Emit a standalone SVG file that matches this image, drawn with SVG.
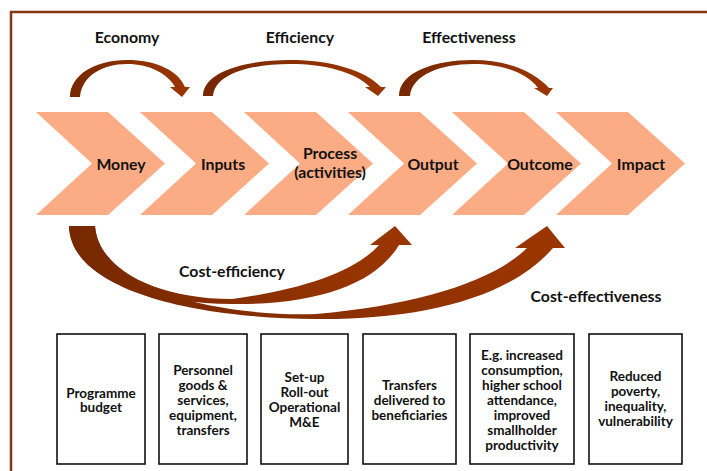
<svg xmlns="http://www.w3.org/2000/svg" width="707" height="471" viewBox="0 0 707 471">
<style>
.chev{fill:#FCAC85}
.t{font-family:Lato,"Liberation Sans",sans-serif;font-weight:bold;fill:#111;text-anchor:middle}
.big{font-size:15.8px}
.sm{font-size:13.5px}
.box{fill:#fff;stroke:#111;stroke-width:1.6}
.arc{fill:url(#g)}
</style>
<defs>
<linearGradient id="g" x1="0" y1="0" x2="1" y2="0">
<stop offset="0" stop-color="#762800"/>
<stop offset="1" stop-color="#9C3600"/>
</linearGradient>
</defs>
<rect x="11" y="12" width="710" height="480" fill="#fff" stroke="#853514" stroke-width="2.5"/>

<g id="labels-top">
<text class="t big" x="127" y="43">Economy</text>
<text class="t big" x="300" y="43">Efficiency</text>
<text class="t big" x="469" y="43">Effectiveness</text>
</g>

<g id="n-money"><polygon class="chev" points="36,112 108,112 165,163.5 108,215 36,215 92,163.5"/><text class="t big" x="121" y="170">Money</text></g>
<g id="n-inputs"><polygon class="chev" points="140,112 212,112 269,163.5 212,215 140,215 196,163.5"/><text class="t big" x="223" y="170">Inputs</text></g>
<g id="n-process"><polygon class="chev" points="244,112 316,112 373,163.5 316,215 244,215 300,163.5"/><text class="t big" x="330" y="158.5">Process</text><text class="t big" x="330" y="177.5">(activities)</text></g>
<g id="n-output"><polygon class="chev" points="348,112 420,112 477,163.5 420,215 348,215 404,163.5"/><text class="t big" x="433" y="170">Output</text></g>
<g id="n-outcome"><polygon class="chev" points="452,112 524,112 581,163.5 524,215 452,215 508,163.5"/><text class="t big" x="540" y="170">Outcome</text></g>
<g id="n-impact"><polygon class="chev" points="556,112 628,112 685,163.5 628,215 556,215 612,163.5"/><text class="t big" x="641" y="170">Impact</text></g>

<g id="connectors">
<path class="arc" d="M70,97 C70,75 95,60 127,60 C155,60 178,70 185,87 L190,87 L182,97 L170,87 L175,87 C168,74 150,64 127,64 C102,64 82,76 80,97 Z"/>
<path class="arc" d="M203,96 C203,72 245,60 290,60 C330,60 365,70 381,87 L386,87 L378,96 L365,87 L370,87 C355,72 325,64 290,64 C250,64 215,74 213,96 Z"/>
<path class="arc" d="M399,96 C399,72 435,60 473,60 C505,60 533,70 549,88 L553,88 L547,96 L534,88 L538,88 C527,73 503,64 473,64 C440,64 412,75 410,96 Z"/>
<path class="arc" d="M69,226 C72,290 190,318 316,319 C420,320 510,298 553,248 L565,248 L547,226 L515,248 L527,248 C495,280 420,305 316,314 C220,317 100,290 95,226 Z"/>
<path class="arc" d="M69,226 C70,275 140,303 232,304 C315,305 375,285 399,245 L412,245 L395,226 L370,245 L379,245 C355,272 300,290 232,299 C150,299 97,265 95,226 Z"/>
</g>

<g id="labels-bottom">
<text class="t big" x="232" y="277">Cost-efficiency</text>
<text class="t big" x="596" y="302">Cost-effectiveness</text>
</g>

<g id="b-money"><rect class="box" x="57" y="334" width="88" height="130"/>
<text class="t sm" x="101" y="397.5">Programme</text><text class="t sm" x="101" y="412">budget</text></g>
<g id="b-inputs"><rect class="box" x="159" y="334" width="88" height="130"/>
<text class="t sm" x="203" y="374.5">Personnel</text><text class="t sm" x="203" y="389.5">goods &amp;</text><text class="t sm" x="203" y="404.5">services,</text><text class="t sm" x="203" y="419.5">equipment,</text><text class="t sm" x="203" y="434.5">transfers</text></g>
<g id="b-process"><rect class="box" x="261" y="334" width="87" height="130"/>
<text class="t sm" x="304.5" y="382">Set-up</text><text class="t sm" x="304.5" y="396.5">Roll-out</text><text class="t sm" x="304.5" y="411.5">Operational</text><text class="t sm" x="304.5" y="426.5">M&amp;E</text></g>
<g id="b-output"><rect class="box" x="363" y="334" width="93" height="130"/>
<text class="t sm" x="409.5" y="389.5">Transfers</text><text class="t sm" x="409.5" y="404.5">delivered to</text><text class="t sm" x="409.5" y="419.5">beneficiaries</text></g>
<g id="b-outcome"><rect class="box" x="470" y="334" width="104" height="130"/>
<text class="t sm" x="522" y="359.5">E.g. increased</text><text class="t sm" x="522" y="374.5">consumption,</text><text class="t sm" x="522" y="389.5">higher school</text><text class="t sm" x="522" y="404.5">attendance,</text><text class="t sm" x="522" y="419.5">improved</text><text class="t sm" x="522" y="434.5">smallholder</text><text class="t sm" x="522" y="449.5">productivity</text></g>
<g id="b-impact"><rect class="box" x="589" y="334" width="93" height="130"/>
<text class="t sm" x="635.5" y="381">Reduced</text><text class="t sm" x="635.5" y="396">poverty,</text><text class="t sm" x="635.5" y="411">inequality,</text><text class="t sm" x="635.5" y="426">vulnerability</text></g>
</svg>
